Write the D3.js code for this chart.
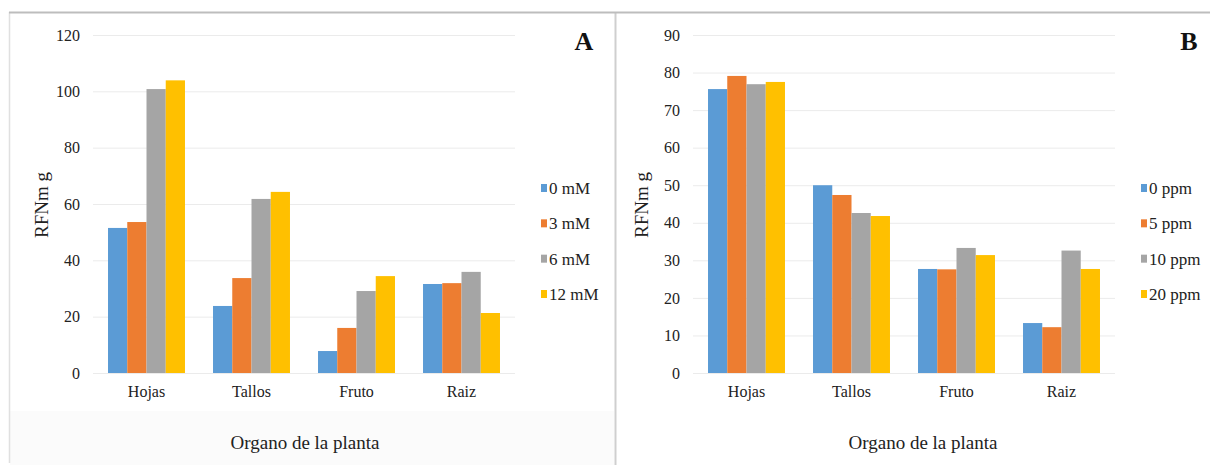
<!DOCTYPE html>
<html><head><meta charset="utf-8">
<script src="https://cdn.jsdelivr.net/npm/d3@7"></script>
<style>html,body{margin:0;padding:0;background:#fff;}svg{display:block;}</style>
</head><body>
<svg id="chart" width="1210" height="465"></svg>
<script>
const categories = ["Hojas", "Tallos", "Fruto", "Raiz"];
const seriesA = ["0 mM", "3 mM", "6 mM", "12 mM"];
const valuesA = [
  [51.5, 23.8, 7.8, 31.6],
  [53.6, 33.7, 16.0, 31.9],
  [100.8, 61.8, 29.1, 35.9],
  [103.9, 64.3, 34.4, 21.3]
];
const ticksA = [0, 20, 40, 60, 80, 100, 120];
const seriesB = ["0 ppm", "5 ppm", "10 ppm", "20 ppm"];
const valuesB = [
  [75.6, 50.0, 27.7, 13.3],
  [79.1, 47.4, 27.6, 12.2],
  [76.9, 42.6, 33.3, 32.6],
  [77.5, 41.8, 31.4, 27.7]
];
const ticksB = [0, 10, 20, 30, 40, 50, 60, 70, 80, 90];
const colors = ["#5B9BD5", "#ED7D31", "#A5A5A5", "#FFC000"];
const xTitle = "Organo de la planta";
const yTitle = "RFNm g";

const FONT = "'Liberation Serif', 'DejaVu Serif', serif";
const TXT = "#222";
const svg = d3.select("#chart");

// frame
svg.append("rect").attr("x", 10).attr("y", 411).attr("width", 604).attr("height", 54).attr("fill", "#fbfbfb");
svg.append("line").attr("x1", 9.5).attr("x2", 9.5).attr("y1", 12).attr("y2", 463).attr("stroke", "#e0e0e0").attr("stroke-width", 1.5);
svg.append("line").attr("x1", 615.5).attr("x2", 615.5).attr("y1", 12).attr("y2", 465).attr("stroke", "#cfcfcf").attr("stroke-width", 2);
svg.append("line").attr("x1", 9).attr("x2", 1210).attr("y1", 12.5).attr("y2", 12.5).attr("stroke", "#bdbdbd").attr("stroke-width", 2);

function panel(opt) {
  const g = svg.append("g");
  const y = d3.scaleLinear().domain([0, opt.max]).range([373, 35]);
  const x0 = d3.scaleBand().domain(categories).range(opt.xr).paddingInner(0.267).paddingOuter(0.143);
  const x1 = d3.scaleBand().domain(opt.series).range([0, x0.bandwidth()]).padding(0);

  const yAxisGrid = d3.axisLeft(y).tickValues(opt.ticks).tickSize(-(opt.xr[1] - opt.xr[0])).tickFormat("");
  const grid = g.append("g").attr("transform", `translate(${opt.xr[0]},0)`).call(yAxisGrid);
  grid.select(".domain").remove();
  grid.selectAll("line").attr("stroke", "#ebebeb").attr("stroke-width", 1);

  const yAx = d3.axisLeft(y).tickValues(opt.ticks).tickSize(0).tickPadding(0);
  const ya = g.append("g").attr("transform", `translate(${opt.labelX},0)`).call(yAx);
  ya.select(".domain").remove();
  ya.selectAll("text").attr("font-family", FONT).attr("font-size", 16).attr("fill", TXT);

  opt.series.forEach((s, si) => {
    g.append("g").selectAll("rect").data(categories).join("rect")
      .attr("x", c => x0(c) + x1(s))
      .attr("y", (c, ci) => y(opt.values[si][ci]))
      .attr("width", x1.bandwidth())
      .attr("height", (c, ci) => y(0) - y(opt.values[si][ci]))
      .attr("fill", colors[si]);
  });

  const xAx = d3.axisBottom(x0).tickSize(0).tickPadding(0);
  const xa = g.append("g").attr("transform", "translate(0,386)").call(xAx);
  xa.select(".domain").remove();
  xa.selectAll("text").attr("font-family", FONT).attr("font-size", 16).attr("fill", TXT).attr("dy", "0.71em");

  g.append("text").attr("x", opt.titleX).attr("y", 449).attr("text-anchor", "middle")
    .attr("font-family", FONT).attr("font-size", 19).attr("fill", TXT).text(xTitle);
  g.append("text").attr("transform", `translate(${opt.yTitleX},205) rotate(-90)`).attr("text-anchor", "middle")
    .attr("font-family", FONT).attr("font-size", 19).attr("fill", TXT).text(yTitle);
  g.append("text").attr("x", opt.letterX).attr("y", 50).attr("text-anchor", "middle")
    .attr("font-family", FONT).attr("font-size", 26).attr("font-weight", "bold").attr("fill", "#111").text(opt.letter);

  const ly = d3.scalePoint().domain(opt.series).range([188, 294]);
  const lg = g.append("g").selectAll("g").data(opt.series).join("g")
    .attr("transform", d => `translate(${opt.legX},${ly(d)})`);
  lg.append("rect").attr("x", 0).attr("y", -4).attr("width", 6).attr("height", 8).attr("fill", (d, i) => colors[i]);
  lg.append("text").attr("x", 8).attr("y", 0).attr("dy", "0.35em").attr("font-family", FONT)
    .attr("font-size", 17).attr("fill", TXT).text(d => d);
}

panel({series: seriesA, values: valuesA, ticks: ticksA, max: 120, xr: [93, 515], labelX: 80,
  titleX: 305, yTitleX: 48, letterX: 584, letter: "A", legX: 541});
panel({series: seriesB, values: valuesB, ticks: ticksB, max: 90, xr: [693, 1115], labelX: 680,
  titleX: 923, yTitleX: 648, letterX: 1189, letter: "B", legX: 1141});
</script>
</body></html>
